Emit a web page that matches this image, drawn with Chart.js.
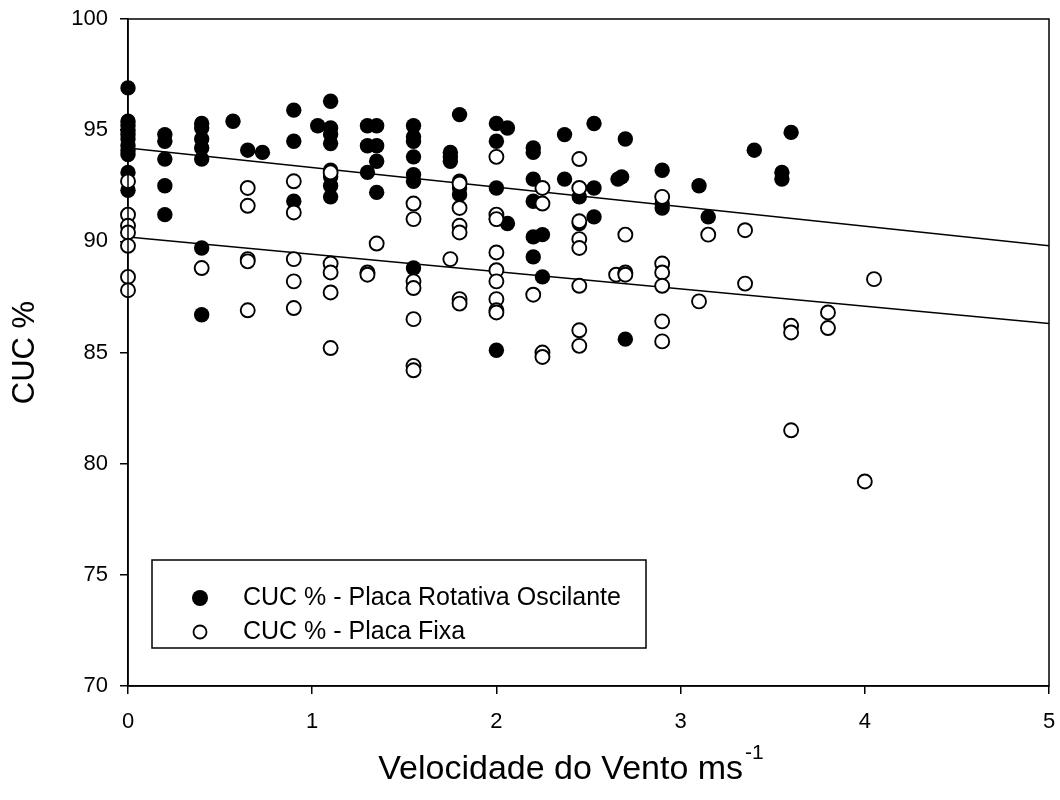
<!DOCTYPE html>
<html>
<head>
<meta charset="utf-8">
<script src="https://cdn.jsdelivr.net/npm/chart.js@4.4.1/dist/chart.umd.min.js"></script>
<style>
html,body{margin:0;padding:0;background:#fff;}
#wrap{width:1060px;height:800px;position:relative;}
</style>
</head>
<body>
<div id="wrap"><canvas id="c" width="1060" height="800"></canvas></div>
<script>
// ---- data ----
const rotX = [0,0,0,0,0,0,0,0,0,0,0,
  0.2,0.2,0.2,0.2,0.2,
  0.4,0.4,0.4,0.4,0.4,0.4,0.4,
  0.57,0.65,0.73,
  0.9,0.9,0.9,
  1.03,
  1.1,1.1,1.1,1.1,1.1,1.1,1.1,1.1,
  1.3,1.3,1.3,
  1.35,1.35,1.35,1.35,
  1.55,1.55,1.55,1.55,1.55,1.55,1.55,
  1.75,1.75,1.75,
  1.8,1.8,1.8,1.8,
  2.0,2.0,2.0,2.0,2.0,
  2.06,2.06,
  2.2,2.2,2.2,2.2,2.2,2.2,
  2.25,2.25,
  2.37,2.37,
  2.45,2.45,
  2.53,2.53,2.53,
  2.66,2.68,
  2.7,2.7,
  2.9,2.9,2.9,
  3.1,3.15,3.4,
  3.55,3.55,3.6];
const rotY = [96.9,95.4,95.2,95.0,94.8,94.6,94.3,94.1,93.9,93.1,92.3,
  94.8,94.5,93.7,92.5,91.2,
  95.3,95.1,94.6,94.2,93.7,89.7,86.7,
  95.4,94.1,94.0,
  95.9,94.5,91.8,
  95.2,
  96.3,95.1,94.8,94.4,93.2,92.9,92.5,92.0,
  95.2,94.3,93.1,
  95.2,94.3,93.6,92.2,
  95.2,94.7,94.5,93.8,93.0,92.7,88.8,
  94.0,93.8,93.6,
  95.7,92.7,92.4,92.1,
  95.3,94.5,92.4,91.0,85.1,
  95.1,90.8,
  94.2,94.0,92.8,91.8,90.2,89.3,
  90.3,88.4,
  94.8,92.8,
  92.0,90.8,
  95.3,92.4,91.1,
  92.8,92.9,
  94.6,85.6,
  93.2,91.7,91.5,
  92.5,91.1,94.1,
  93.1,92.8,94.9];

const fixX = [0,0,0,0,0,0,0,
  0.4,
  0.65,0.65,0.65,0.65,0.65,
  0.9,0.9,0.9,0.9,0.9,
  1.1,1.1,1.1,1.1,1.1,
  1.3,1.3,1.35,
  1.55,1.55,1.55,1.55,1.55,1.55,1.55,
  1.75,
  1.8,1.8,1.8,1.8,1.8,1.8,
  2.0,2.0,2.0,2.0,2.0,2.0,2.0,2.0,2.0,
  2.2,
  2.25,2.25,2.25,2.25,
  2.45,2.45,2.45,2.45,2.45,2.45,2.45,2.45,
  2.65,
  2.7,2.7,2.7,
  2.9,2.9,2.9,2.9,2.9,2.9,
  3.1,3.15,
  3.35,3.35,
  3.6,3.6,3.6,
  3.8,3.8,
  4.0,4.05];
const fixY = [92.7,91.2,90.7,90.4,89.8,88.4,87.8,
  88.8,
  92.4,91.6,89.2,89.1,86.9,
  92.7,91.3,89.2,88.2,87.0,
  93.1,89.0,88.6,87.7,85.2,
  88.6,88.5,89.9,
  91.7,91.0,88.2,87.9,86.5,84.4,84.2,
  89.2,
  92.6,91.5,90.7,90.4,87.4,87.2,
  93.8,91.2,91.0,89.5,88.7,88.2,87.4,86.9,86.8,
  87.6,
  92.4,91.7,85.0,84.8,
  93.7,92.4,90.9,90.1,89.7,88.0,86.0,85.3,
  88.5,
  90.3,88.6,88.5,
  92.0,89.0,88.6,88.0,86.4,85.5,
  87.3,90.3,
  90.5,88.1,
  86.2,85.9,81.5,
  86.8,86.1,
  79.2,88.3];

// regression line end points (x = 0 and x = 5)
const fitX = [0, 5];
const rotFitY = [94.2, 89.8];
const fixFitY = [90.2, 86.3];

const xTicks = [0,1,2,3,4,5];
const yTicks = [70,75,80,85,90,95,100];

const seriesNames = ['CUC % - Placa Rotativa Oscilante', 'CUC % - Placa Fixa'];
const xTitle = 'Velocidade do Vento ms';
const xTitleSup = '-1';
const yTitle = 'CUC %';

const toPts = (xs, ys) => xs.map((x, i) => ({x: x, y: ys[i]}));

const FONT = '"Liberation Sans", Arial, sans-serif';

const framePlugin = {
  id: 'frame',
  afterDraw(chart) {
    const ctx = chart.ctx, a = chart.chartArea;
    ctx.save();
    ctx.strokeStyle = '#000';
    ctx.lineWidth = 1.5;
    ctx.strokeRect(a.left, a.top, a.right - a.left, a.bottom - a.top);

    ctx.fillStyle = '#000';
    ctx.font = '31px ' + FONT;
    ctx.textBaseline = 'middle';
    ctx.textAlign = 'center';
    ctx.save();
    ctx.translate(25, (a.top + a.bottom) / 2);
    ctx.rotate(-Math.PI / 2);
    ctx.fillText(yTitle, 0, 0);
    ctx.restore();

    ctx.font = '34px ' + FONT;
    const w1 = ctx.measureText(xTitle).width;
    ctx.font = '21px ' + FONT;
    const w2 = ctx.measureText(xTitleSup).width;
    const total = w1 + 2 + w2;
    const cx = 571;
    const sx = cx - total / 2;
    ctx.textAlign = 'left';
    ctx.textBaseline = 'alphabetic';
    ctx.font = '34px ' + FONT;
    ctx.fillText(xTitle, sx, 779);
    ctx.font = '21px ' + FONT;
    ctx.fillText(xTitleSup, sx + w1 + 2, 759);

    const lx = 152, ly = 560, lw = 494, lh = 88;
    ctx.fillStyle = '#fff';
    ctx.fillRect(lx, ly, lw, lh);
    ctx.lineWidth = 1.5;
    ctx.strokeStyle = '#000';
    ctx.strokeRect(lx, ly, lw, lh);
    const rows = [598, 632];
    rows.forEach((yy, i) => {
      ctx.beginPath();
      ctx.arc(200, yy, i === 0 ? 8 : 6.5, 0, Math.PI * 2);
      if (i === 0) { ctx.fillStyle = '#000'; ctx.fill(); }
      else { ctx.fillStyle = '#fff'; ctx.fill(); ctx.lineWidth = 1.8; ctx.strokeStyle = '#000'; ctx.stroke(); }
      ctx.fillStyle = '#000';
      ctx.font = '25px ' + FONT;
      ctx.textAlign = 'left';
      ctx.textBaseline = 'middle';
      ctx.fillText(seriesNames[i], 243, yy);
    });
    ctx.restore();
  }
};

new Chart(document.getElementById('c'), {
  type: 'scatter',
  data: {
    datasets: [
      {
        label: seriesNames[1],
        data: toPts(fixX, fixY),
        pointRadius: 7,
        pointBackgroundColor: '#fff',
        pointBorderColor: '#000',
        pointBorderWidth: 1.9,
        pointHoverRadius: 7,
        clip: false,
        order: 0
      },
      {
        label: seriesNames[0],
        data: toPts(rotX, rotY),
        pointRadius: 7.7,
        pointBackgroundColor: '#000',
        pointBorderColor: '#000',
        pointBorderWidth: 0,
        pointHoverRadius: 7.7,
        clip: false,
        order: 1
      },
      {
        label: 'fit1',
        type: 'line',
        data: toPts(fitX, rotFitY),
        borderColor: '#000',
        borderWidth: 1.5,
        pointRadius: 0,
        fill: false,
        order: 2
      },
      {
        label: 'fit2',
        type: 'line',
        data: toPts(fitX, fixFitY),
        borderColor: '#000',
        borderWidth: 1.5,
        pointRadius: 0,
        fill: false,
        order: 3
      }
    ]
  },
  options: {
    responsive: false,
    animation: false,
    devicePixelRatio: 1,
    layout: { padding: { top: 19, right: 11, left: 0, bottom: 0 } },
    plugins: { legend: { display: false }, tooltip: { enabled: false } },
    scales: {
      x: {
        type: 'linear', min: 0, max: 5,
        afterBuildTicks: (s) => { s.ticks = xTicks.map(v => ({value: v})); },
        afterFit: (s) => { s.height = 114; s.paddingLeft = 0; s.paddingRight = 0; },
        grid: { display: true, drawOnChartArea: false, drawTicks: true, tickLength: 8, color: '#000', lineWidth: 1.5 },
        border: { display: true, color: '#000', width: 1.5 },
        ticks: { color: '#000', font: { family: FONT, size: 22 }, padding: 15, maxRotation: 0 }
      },
      y: {
        type: 'linear', min: 70, max: 100,
        afterBuildTicks: (s) => { s.ticks = yTicks.map(v => ({value: v})); },
        afterFit: (s) => { s.width = 128; s.paddingTop = 0; s.paddingBottom = 0; },
        grid: { display: true, drawOnChartArea: false, drawTicks: true, tickLength: 8, color: '#000', lineWidth: 1.5 },
        border: { display: true, color: '#000', width: 1.5 },
        ticks: { color: '#000', font: { family: FONT, size: 22 }, padding: 12 }
      }
    }
  },
  plugins: [framePlugin]
});
</script>
</body>
</html>
